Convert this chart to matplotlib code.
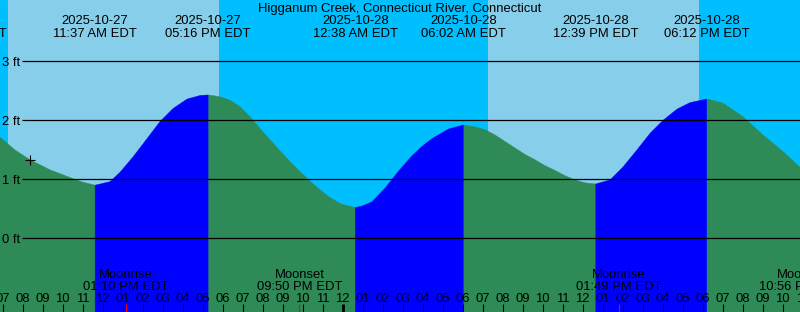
import numpy as np
import matplotlib
matplotlib.use("Agg")
import matplotlib.pyplot as plt

plt.rcParams["font.family"] = ["Liberation Sans", "DejaVu Sans"]
plt.rcParams["font.size"] = 9.4

# hours since midnight 2025-10-27 (local EDT)
tide_hours = [6.85, 7.60, 8.37, 9.37, 10.37, 11.02, 11.62, 12.37, 12.87, 13.52,
              14.22, 14.87, 15.52, 16.22, 16.87, 17.27, 17.87, 18.37, 18.87, 19.37,
              19.87, 20.37, 20.87, 21.37, 21.87, 22.37, 22.87, 23.37, 23.87, 24.37,
              24.63, 25.00, 25.47, 26.12, 26.77, 27.47, 27.97, 28.47, 29.27, 30.03,
              30.62, 31.12, 31.62, 32.12, 32.62, 33.12, 33.62, 34.12, 34.62, 35.12,
              35.62, 36.12, 36.65, 37.37, 38.02, 38.72, 39.37, 40.02, 40.72, 41.37,
              42.20, 42.60, 43.02, 44.02, 45.02, 46.02, 46.90]
tide_feet = [1.72, 1.50, 1.33, 1.16, 1.03, 0.95, 0.90, 0.96, 1.12, 1.38,
             1.69, 1.98, 2.20, 2.36, 2.42, 2.43, 2.40, 2.34, 2.23, 2.06,
             1.86, 1.67, 1.48, 1.30, 1.13, 0.97, 0.82, 0.69, 0.59, 0.54,
             0.52, 0.55, 0.62, 0.85, 1.13, 1.40, 1.56, 1.69, 1.85, 1.92,
             1.89, 1.84, 1.75, 1.64, 1.53, 1.42, 1.33, 1.23, 1.15, 1.06,
             0.99, 0.94, 0.92, 0.99, 1.21, 1.50, 1.78, 2.00, 2.19, 2.30,
             2.36, 2.33, 2.29, 2.06, 1.75, 1.47, 1.19]

# high / low tide events shown along the top
event_hours = [5.07, 11.617, 17.267, 24.633, 30.033, 36.65, 42.20]
event_dates = ["2025-10-27", "2025-10-27", "2025-10-27", "2025-10-28",
               "2025-10-28", "2025-10-28", "2025-10-28"]
event_times = ["05:04 AM EDT", "11:37 AM EDT", "05:16 PM EDT", "12:38 AM EDT",
               "06:02 AM EDT", "12:39 PM EDT", "06:12 PM EDT"]

# daylight (sunrise, sunset)
day_spans = [(7.27, 17.82), (31.27, 41.82)]

# moon events along the bottom
moon_hours = [13.167, 21.833, 37.817, 46.933]
moon_names = ["Moonrise", "Moonset", "Moonrise", "Moonset"]
moon_times = ["01:10 PM EDT", "09:50 PM EDT", "01:49 PM EDT", "10:56 PM EDT"]

levels = [0, 1, 2, 3]
now_hour, now_feet = 8.37, 1.33

W, H = 800, 312
t0 = 12 - 102.7 / 20
t1 = t0 + W / 20
y_bot = (238.3 - H) / 59
y_top = 238.3 / 59

fig = plt.figure(figsize=(W / 100, H / 100), dpi=100)
ax = fig.add_axes([0, 0, 1, 1])
ax.set_xlim(t0, t1)
ax.set_ylim(y_bot, y_top)
ax.axis("off")

ax.axvspan(t0, t1, color="#00BFFF", zorder=0)
for a, b in day_spans:
    ax.axvspan(a, b, color="#87CEEB", lw=0, zorder=0)

t = np.array(tide_hours)
h = np.array(tide_feet)
rise = np.diff(h) > 0
rising = np.zeros(len(h), bool)
falling = np.zeros(len(h), bool)
rising[:-1] |= rise
rising[1:] |= rise
falling[:-1] |= ~rise
falling[1:] |= ~rise
ax.fill_between(t, h, y_bot - 1, where=falling, color="#2E8B57", lw=0.3, zorder=1)
ax.fill_between(t, h, y_bot - 1, where=rising, color="#0000FF", lw=0.3, zorder=1)

# level lines and labels
ax.hlines(levels, 22 / W, 1, transform=ax.get_yaxis_transform(), color="black",
          lw=0.9, zorder=2)
for lv in levels:
    ax.annotate(f"{lv} ft", xy=(0, lv), xycoords=("axes fraction", "data"),
                xytext=(2, -4.7), textcoords="offset pixels", ha="left",
                va="baseline", zorder=3)

ax.plot([now_hour], [now_feet], marker="+", color="black", ms=7, mew=0.8, zorder=3)

xt = ax.get_xaxis_transform()


def fy(px):
    return 1 - px / H


ax.text(0.5, fy(11.7), "Higganum Creek, Connecticut River, Connecticut",
        transform=ax.transAxes, ha="center", va="baseline", zorder=3)
for eh, ed, et in zip(event_hours, event_dates, event_times):
    ax.text(eh, fy(24.3), ed, transform=xt, ha="center", va="baseline", zorder=3)
    ax.text(eh, fy(36.7), et, transform=xt, ha="center", va="baseline", zorder=3)

for mh, mn, mt in zip(moon_hours, moon_names, moon_times):
    ax.text(mh, fy(278), mn, transform=xt, ha="center", va="baseline", zorder=3)
    ax.text(mh, fy(290), mt, transform=xt, ha="center", va="baseline", zorder=3)

# hour ticks
hours = np.arange(7, 48)
for hr in hours:
    lab = f"{(hr - 1) % 12 + 1:02d}"
    ax.text(hr, fy(302), lab, transform=xt, ha="center", va="baseline", zorder=3)
    lw = 2.0 if hr % 24 == 0 else 0.8
    ax.vlines(hr, 0, 8 / H, transform=xt, color="black", lw=lw, zorder=3)
ax.vlines(moon_hours, 0, 8 / H, transform=xt, color="red", lw=0.8, zorder=4)

fig.savefig("out.png", dpi=100)
